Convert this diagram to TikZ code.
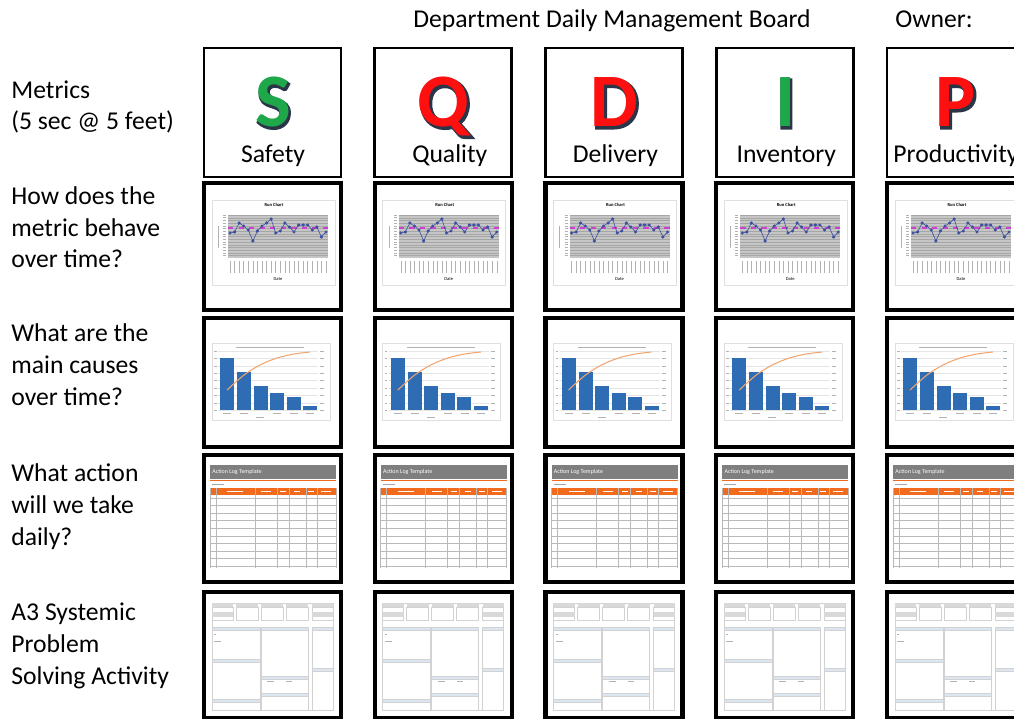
\documentclass[tikz,border=0pt]{standalone}
\usepackage{fontspec}
\setmainfont{Carlito}
\usepackage{tikz}
\usetikzlibrary{positioning}

\definecolor{sqdcgreen}{HTML}{1EA84A}
\definecolor{sqdcred}{HTML}{FF1010}
\definecolor{letteredge}{HTML}{2A3548}
\definecolor{barblue}{HTML}{2E6DB4}
\definecolor{curveorange}{HTML}{F2A66E}
\definecolor{meanpink}{HTML}{D040D0}
\definecolor{runblue}{HTML}{3A4FA0}
\definecolor{logorange}{HTML}{F26A1B}
\definecolor{loggrey}{HTML}{7F7F7F}
\definecolor{formblue}{HTML}{DCE6F1}

\begin{document}
\begin{tikzpicture}[
  x=0.02cm, y=-0.02cm,
  board/.style={draw=black, line width=1.5pt},
  panel/.style={draw=black, line width=2.3pt},
  rowlbl/.style={anchor=base west, align=left, inner sep=0pt,
                 font=\fontsize{14.6}{18.2}\selectfont},
  head/.style={anchor=base, inner sep=0pt, font=\fontsize{14.6}{18.2}\selectfont},
  bigltr/.style={anchor=base, inner sep=0pt, font=\fontsize{43}{43}\selectfont\bfseries},
  ltrshade/.style={bigltr, text=letteredge,
                   font=\fontsize{43}{43}\selectfont\bfseries\addfontfeatures{FakeBold=3}},
  tinytxt/.style={inner sep=0pt, font=\fontsize{2.6}{3}\selectfont},
  scrib/.style={draw=gray!60, line width=0.25pt},
  gridln/.style={draw=gray!55, line width=0.45pt},
  formcell/.style={draw=gray!35, line width=0.3pt}
]
\useasboundingbox (0,0) rectangle (1014,719);
\clip (0,0) rectangle (1014,719);

% header line
\node[head] (title) at (612,28) {Department Daily Management Board};
\node[head] (owner) at (934,28) {Owner:};

% questions down the left side (anchored on the last line)
\node[rowlbl] (q1) at (11,130) {Metrics\\(5 sec @ 5 feet)};
\node[rowlbl] (q2) at (11,268) {How does the\\metric behave\\over time?};
\node[rowlbl] (q3) at (11,405) {What are the\\main causes\\over time?};
\node[rowlbl] (q4) at (11,545) {What action\\will we take\\daily?};
\node[rowlbl] (q5) at (11,684) {A3 Systemic\\Problem\\Solving Activity};

\foreach \i/\ltr/\col/\word/\nx in {1/S/sqdcgreen/Safety/0, 2/Q/sqdcred/Quality/6,
    3/D/sqdcred/Delivery/1, 4/I/sqdcgreen/Inventory/1, 5/P/sqdcred/Productivity/0} {
  \pgfmathsetmacro{\x}{204 + (\i-1)*170.75}
  \begin{scope}[shift={(\x,0)}]
    % metric letter
    \draw[board] (0,48) rectangle (137,177);
    \node[ltrshade] (shade-\i) at (70.2,128.4) {\ltr};
    \node[bigltr, text=\col] (ltr-\i) at (69,127) {\ltr};
    \node[head] (name-\i) at (69+\nx,163) {\word};

    % run chart
    \draw[panel] (0,183) rectangle (137,310);
    \draw[draw=gray!25, fill=white, line width=0.3pt] (8,200) rectangle (131,285);
    \node[tinytxt, font=\fontsize{2.6}{3}\selectfont\bfseries] (run-\i) at (70,205) {Run Chart};
    \fill[gray!45] (24,215) rectangle (124,258);
    \foreach \k in {0,...,15} {
      \draw[gray!70, line width=0.2pt] (24,215+\k*2.7) -- (124,215+\k*2.7);
      \draw[scrib] (19,215+\k*2.7) -- (22,215+\k*2.7);
    }
    \draw[scrib] (14,226) -- (14,248);
    \draw[meanpink, dashed, line width=0.6pt] (24,228) -- (124,228);
    \draw[runblue, line width=0.35pt] plot[mark=*, mark size=0.7pt] coordinates {
      (26,233) (30.6,232) (35.1,223) (39.7,226) (44.3,230) (48.9,241)
      (53.4,231) (58,226) (62.6,223) (67.1,219) (71.7,233) (76.3,231)
      (80.9,223) (85.4,227) (90,232) (94.6,225) (99.1,225) (103.7,225)
      (108.3,230) (112.9,227) (117.4,237) (122,232)};
    \foreach \k in {0,...,21} {
      \draw[scrib] (26+\k*4.57,261) -- (26+\k*4.57,273);
    }
    \node[tinytxt] (date-\i) at (74,279) {Date};

    % pareto chart
    \draw[panel] (0,318) rectangle (137,447);
    \draw[draw=gray!25, fill=white, line width=0.3pt] (8,343) rectangle (126,420);
    \draw[scrib] (32,347) -- (100,347);
    \foreach \k in {0,...,8} {
      \draw[gray!20, line width=0.25pt] (14,351+\k*7.4) -- (114,351+\k*7.4);
      \draw[scrib] (10,351+\k*7.4) -- (12.5,351+\k*7.4);
      \draw[scrib] (116,351+\k*7.4) -- (120,351+\k*7.4);
    }
    \foreach \bx/\by in {16/358, 33/372, 49.5/386, 66/393, 82.5/397, 99/406} {
      \fill[barblue] (\bx,\by) rectangle (\bx+14,410);
    }
    \draw[curveorange, line width=0.6pt] plot[smooth] coordinates {
      (23,390) (40,375) (56,365) (73,358) (90,354) (106,352)};
    \foreach \cx/\cy in {23/413, 40/413, 56/417, 73/413, 90/413, 106/413} {
      \draw[scrib] (\cx-4,\cy) -- (\cx+4,\cy);
    }

    % action log
    \draw[panel] (0,455) rectangle (137,582);
    \fill[loggrey] (6,465) rectangle (132,479);
    \node[tinytxt, anchor=west, text=white, font=\fontsize{3.4}{4}\selectfont] (log-\i) at (8,472) {Action Log Template};
    \draw[logorange, line width=0.4pt] (6,480.5) -- (132,480.5);
    \draw[gray!70, line width=0.3pt] (8,484) -- (20,484);
    \fill[logorange] (6,488) rectangle (132,495);
    \foreach \hx/\hw in {31/8, 62/5, 79/3, 93/3, 107/3, 122/5} {
      \draw[white, line width=0.3pt] (\hx-\hw,491.5) -- (\hx+\hw,491.5);
    }
    \foreach \k in {0,...,9} {
      \draw[gridln] (6,498+\k*7.6) -- (132,498+\k*7.6);
    }
    \foreach \vx in {6, 12, 51, 73, 85, 102, 113, 132} {
      \draw[gridln] (\vx,488) -- (\vx,568);
    }

    % A3 form
    \draw[panel] (0,592) rectangle (137,718);
    \draw[formcell] (8,603) rectangle (129,710);
    \foreach \ca/\cb in {8/29, 32/54, 57/79, 82/104, 108/129} {
      \fill[gray!30] (\ca,603) rectangle (\cb,607);
      \draw[formcell] (\ca,607) rectangle (\cb,620);
    }
    \fill[gray!30] (8,612) rectangle (29,617);
    \fill[gray!30] (108,612) rectangle (129,617);
    \draw[formcell] (8,627) rectangle (56,710);
    \draw[formcell] (57,627) rectangle (104,710);
    \draw[formcell] (108,627) rectangle (129,710);
    \foreach \ha/\hb/\hy in {8/56/627, 8/56/659, 8/56/699, 57/104/627, 57/104/676,
                              57/104/693, 108/129/627, 108/129/668} {
      \fill[formblue] (\ha,\hy) rectangle (\hb,\hy+3);
      \draw[formcell] (\ha,\hy) rectangle (\hb,\hy+3);
    }
    \draw[scrib] (10,634) -- (12,634);
    \draw[scrib] (10,641) -- (17,641);
    \draw[scrib] (63,681) -- (70,681);
    \draw[scrib] (82,681) -- (88,681);
  \end{scope}
}
\end{tikzpicture}
\end{document}
